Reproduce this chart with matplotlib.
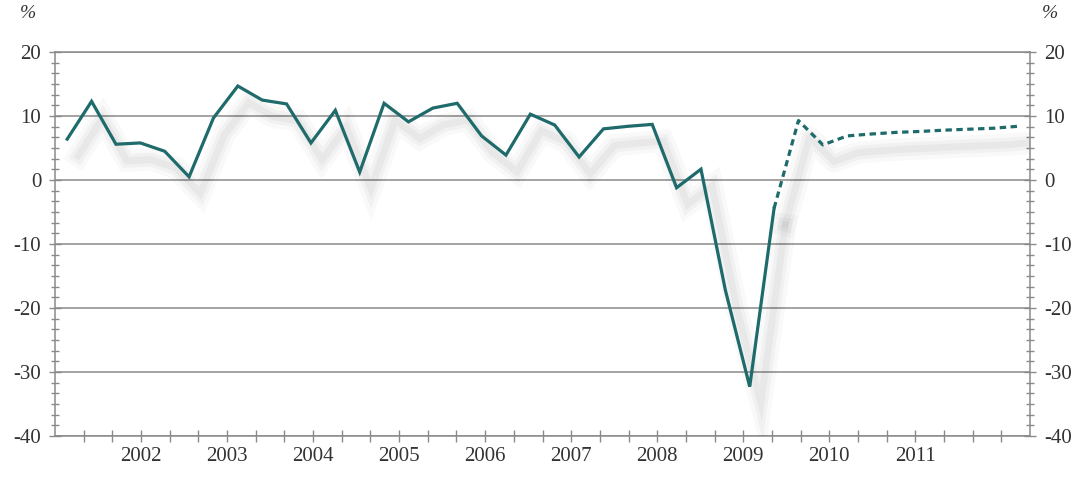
import numpy as np
import matplotlib.pyplot as plt
import matplotlib.patheffects as pe

# quarterly growth, 2002Q1 .. 2011Q4 (last 11 points are forecast)
actual = [6.4, 12.3, 5.6, 5.8, 4.5, 0.5, 9.7, 14.7, 12.5, 11.9,
          5.8, 10.9, 1.25, 12.0, 9.1, 11.25, 12.0, 6.9, 3.9, 10.3,
          8.6, 3.6, 8.0, 8.4, 8.7, -1.2, 1.7, -17.2, -32.3, -4.4]
forecast = [-4.4, 9.3, 5.5, 6.9, 7.2, 7.45, 7.6, 7.8, 7.95, 8.1, 8.4]
years = ["2002", "2003", "2004", "2005", "2006", "2007", "2008", "2009", "2010", "2011"]
yticks = [-40, -30, -20, -10, 0, 10, 20]

plt.rcParams['font.family'] = ['Liberation Serif', 'DejaVu Serif']
plt.rcParams['axes.unicode_minus'] = False

teal = '#1f6a6b'
grid = '#8a8a8a'
txt = '#333333'

fig = plt.figure(figsize=(10.83, 4.78), dpi=100)
ax = fig.add_axes([0.0508, 0.088, 0.9003, 0.803])

x_act = np.arange(len(actual))
x_fc = np.arange(len(actual) - 1, len(actual) - 1 + len(forecast))

# soft drop shadow under the line
shadow = [pe.SimpleLineShadow(offset=(8, -12), shadow_color='#000000', alpha=0.025, linewidth=16),
          pe.SimpleLineShadow(offset=(8, -12), shadow_color='#000000', alpha=0.03, linewidth=10),
          pe.SimpleLineShadow(offset=(8, -12), shadow_color='#000000', alpha=0.035, linewidth=5)]

ax.plot(x_act, actual, color=teal, lw=2.3, solid_joinstyle='miter',
        path_effects=shadow + [pe.Normal()], zorder=3)
# forecast shadow drawn solid, then the dashed line on top
ax.plot(x_fc, forecast, color=teal, lw=2.3, path_effects=shadow, zorder=2)
ax.plot(x_fc, forecast, color=teal, lw=2.3, linestyle=(0, (2, 1.4)), zorder=3)

for v in yticks:
    ax.axhline(v, color=grid, lw=1.1, zorder=1)

ax.set_xlim(-0.5, 39.5)
ax.set_ylim(-40, 20)

# x axis: 34 equal divisions, year labels on every third
xt = np.linspace(-0.5, 39.5, 35)
ax.set_xticks(xt[1:-1], minor=True)
ax.set_xticks(xt[3:31:3])
ax.set_xticklabels(years)
ax.tick_params(axis='x', which='both', direction='inout', length=8, width=1, color=grid,
               labelsize=15, labelcolor=txt, pad=4)

ax.set_yticks(yticks)
ax.set_yticks(np.arange(-40, 20.01, 10 / 6), minor=True)
ax.tick_params(axis='y', which='major', direction='inout', length=8, width=1, color=grid,
               labelsize=15, labelcolor=txt, left=True, right=True,
               labelleft=True, labelright=True, pad=6)
ax.tick_params(axis='y', which='minor', direction='inout', length=6, width=1, color=grid,
               left=True, right=True)

for s in ax.spines.values():
    s.set_color(grid)
    s.set_linewidth(1.1)

fig.text(0.018, 0.972, '%', fontsize=14, color=txt, style='italic', va='center')
fig.text(0.962, 0.972, '%', fontsize=14, color=txt, style='italic', va='center')

fig.savefig('out.png', dpi=100, facecolor='white')
